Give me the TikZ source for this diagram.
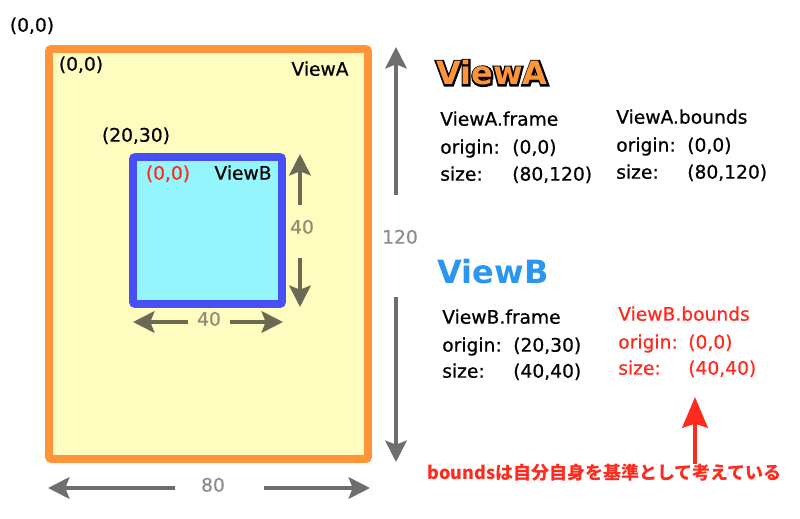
\documentclass[tikz,border=0pt]{standalone}
\usepackage{fontspec}
\setmainfont{DejaVu Sans}
\newfontfamily\txtfont{DejaVu Sans}[FakeBold=0.7]
\newfontfamily\jpfont{Noto Sans CJK JP}
\usetikzlibrary{arrows.meta}
\usetikzlibrary{fit}
\usetikzlibrary{positioning}

\definecolor{viewaorange}{HTML}{FF9438}
\definecolor{viewafill}{HTML}{FFFCC0}
\definecolor{viewbblue}{HTML}{4650F6}
\definecolor{viewbfill}{HTML}{94F6FC}
\definecolor{dimgrey}{HTML}{6E6E6E}
\definecolor{dimolive}{HTML}{6A6A55}
\definecolor{labgrey}{HTML}{8C8C8C}
\definecolor{labolive}{HTML}{8F8F78}
\definecolor{headblue}{HTML}{2A96F0}
\definecolor{notered}{HTML}{FF2A1E}

% orange letters with a black outline: a stroked black copy under the orange one
\newcommand{\outlined}[1]{%
  {\color{black}\special{pdf:literal direct 2 Tr 2.6 w}\rlap{#1}\special{pdf:literal direct 0 Tr}}%
  {\color{viewaorange}#1}}

\tikzset{
  viewabox/.style={draw=viewaorange,fill=viewafill,line width=5.7pt,rounded corners=1.5pt,inner sep=0pt},
  viewbbox/.style={draw=viewbblue,fill=viewbfill,line width=5.7pt,rounded corners=1.5pt,inner sep=0pt},
  txt/.style={font=\txtfont\fontsize{14}{17}\selectfont,inner sep=0pt,text height=0.75em,text depth=0.2em},
  info/.style={txt,anchor=west},
  heading/.style={font=\fontsize{24}{28}\selectfont\bfseries,inner sep=0pt},
  dimarrow/.style={draw=dimgrey,line width=3pt,-{Stealth[length=16pt,width=16pt,inset=3pt]}},
  innerarrow/.style={draw=dimolive,line width=3pt,-{Stealth[length=16pt,width=16pt,inset=3pt]}},
  notearrow/.style={draw=notered,line width=3pt,-{Stealth[length=23pt,width=19pt,inset=3pt]}}
}

\begin{document}
\begin{tikzpicture}[x=0.75pt,y=-0.75pt]

  \useasboundingbox (0,0) rectangle (800,518);

  % the two views
  \coordinate (A_nw) at (49,49);
  \coordinate (A_se) at (368,459);
  \node [viewabox,fit=(A_nw) (A_se)] (viewA) {};

  \coordinate (B_nw) at (133,157);
  \coordinate (B_se) at (282,304);
  \node [viewbbox,fit=(B_nw) (B_se)] (viewB) {};

  \node [txt] (origin_win) at (32,28) {(0,0)};
  \node [txt] (origin_A) at (81,67) {(0,0)};
  \node [txt] (name_A) at (320,72) {ViewA};
  \node [txt] (frame_B) at (136,138) {(20,30)};
  \node [txt,text=notered] (origin_B) at (168,176) {(0,0)};
  \node [txt] (name_B) at (243,176) {ViewB};

  % dimensions of ViewB
  \node [txt,text=labolive] (dimB_h) at (302,230) {40};
  \coordinate (dimB_h_up) at (300,205);
  \coordinate (dimB_h_dn) at (300,258);
  \coordinate (dimB_h_top) at (300,154);
  \coordinate (dimB_h_bot) at (300,307);
  \draw [innerarrow] (dimB_h_up) -- (dimB_h_top);
  \draw [innerarrow] (dimB_h_dn) -- (dimB_h_bot);

  \node [txt,text=labolive] (dimB_w) at (209,322) {40};
  \coordinate (dimB_w_l) at (188,322);
  \coordinate (dimB_w_r) at (230,322);
  \coordinate (dimB_w_left) at (133,322);
  \coordinate (dimB_w_right) at (283,322);
  \draw [innerarrow] (dimB_w_l) -- (dimB_w_left);
  \draw [innerarrow] (dimB_w_r) -- (dimB_w_right);

  % dimensions of ViewA
  \node [txt,text=labgrey] (dimA_h) at (400,240) {120};
  \coordinate (dimA_h_up) at (396,195);
  \coordinate (dimA_h_dn) at (396,297);
  \coordinate (dimA_h_top) at (396,47);
  \coordinate (dimA_h_bot) at (396,462);
  \draw [dimarrow] (dimA_h_up) -- (dimA_h_top);
  \draw [dimarrow] (dimA_h_dn) -- (dimA_h_bot);

  \node [txt,text=labgrey] (dimA_w) at (213,488) {80};
  \coordinate (dimA_w_l) at (175,488);
  \coordinate (dimA_w_r) at (264,488);
  \coordinate (dimA_w_left) at (48,488);
  \coordinate (dimA_w_right) at (370,488);
  \draw [dimarrow] (dimA_w_l) -- (dimA_w_left);
  \draw [dimarrow] (dimA_w_r) -- (dimA_w_right);

  % ViewA properties
  \node [heading] (headA) at (492,73) {\outlined{ViewA}};

  \node [info] (Aframe) at (440,122) {ViewA.frame};
  \node [info] (Aframe_o) at (440,150) {origin:};
  \node [info] (Aframe_s) at (440,177) {size:};
  \node [info] (Aframe_ov) at (512,150) {(0,0)};
  \node [info] (Aframe_sv) at (512,177) {(80,120)};

  \node [info] (Abounds) at (616,120) {ViewA.bounds};
  \node [info] (Abounds_o) at (616,148) {origin:};
  \node [info] (Abounds_s) at (616,175) {size:};
  \node [info] (Abounds_ov) at (687,148) {(0,0)};
  \node [info] (Abounds_sv) at (687,175) {(80,120)};

  % ViewB properties
  \node [heading,text=headblue] (headB) at (493,272) {ViewB};

  \node [info] (Bframe) at (442,320) {ViewB.frame};
  \node [info] (Bframe_o) at (442,348) {origin:};
  \node [info] (Bframe_s) at (442,374) {size:};
  \node [info] (Bframe_ov) at (513,348) {(20,30)};
  \node [info] (Bframe_sv) at (513,374) {(40,40)};

  \begin{scope}[every node/.append style={text=notered}]
    \node [info] (Bbounds) at (618,317) {ViewB.bounds};
    \node [info] (Bbounds_o) at (618,345) {origin:};
    \node [info] (Bbounds_s) at (618,371) {size:};
    \node [info] (Bbounds_ov) at (688,345) {(0,0)};
    \node [info] (Bbounds_sv) at (688,371) {(40,40)};
  \end{scope}

  \node [anchor=west,inner sep=0pt,text=notered,font=\jpfont\fontsize{13.5}{16}\selectfont\bfseries] (note) at (427,473) {boundsは自分自身を基準として考えている};
  \coordinate (note_tip) at (695,397);
  \draw [notearrow] (note.north -| note_tip) -- (note_tip);

\end{tikzpicture}
\end{document}
